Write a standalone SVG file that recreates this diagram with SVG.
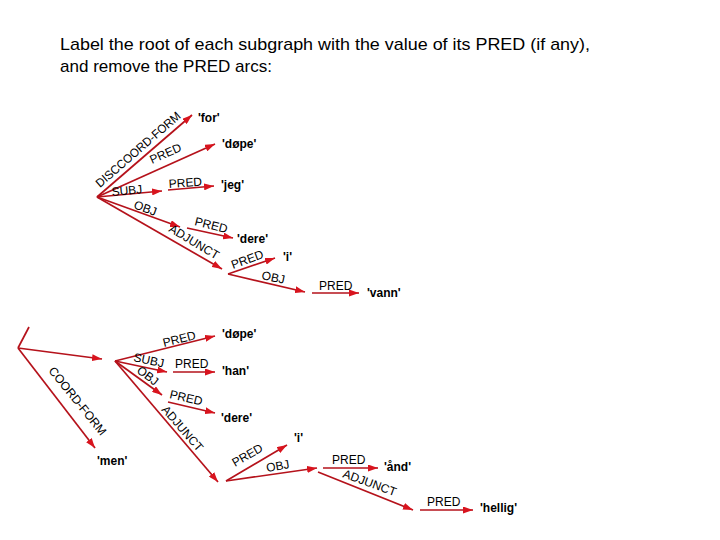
<svg xmlns="http://www.w3.org/2000/svg" width="720" height="540" viewBox="0 0 720 540">
<defs>
<marker id="ah" viewBox="0 0 10 7" refX="10" refY="3.5" markerWidth="10" markerHeight="7" markerUnits="userSpaceOnUse" orient="auto">
<path d="M0,0 L10,3.5 L0,7 z" fill="#d8141e"/>
</marker>
<style>
.c line{stroke:#b5121b;stroke-width:1.7;fill:none}
.c .a{marker-end:url(#ah)}
.lab{font-family:"Liberation Sans",Arial,sans-serif;font-size:12px;fill:#000}
.val{font-family:"Liberation Sans",Arial,sans-serif;font-size:12px;font-weight:bold;fill:#000}
.title{font-family:"Liberation Sans",Arial,sans-serif;font-size:17px;fill:#000}
</style>
</defs>
<rect width="720" height="540" fill="#fff"/>
<text class="title" x="60" y="50" textLength="530" lengthAdjust="spacingAndGlyphs">Label the root of each subgraph with the value of its PRED (if any),</text>
<text class="title" x="60" y="72" textLength="212" lengthAdjust="spacingAndGlyphs">and remove the PRED arcs:</text>

<g id="connectors" class="c">
<line class="a" x1="97" y1="197" x2="192" y2="115"/>
<line class="a" x1="97" y1="197" x2="215" y2="144"/>
<line class="a" x1="97" y1="197" x2="162" y2="191"/>
<line class="a" x1="168" y1="190" x2="214" y2="186"/>
<line class="a" x1="97" y1="197" x2="180" y2="227"/>
<line class="a" x1="187" y1="228" x2="233" y2="238"/>
<line class="a" x1="97" y1="197" x2="222" y2="269"/>
<line class="a" x1="228" y1="274" x2="275" y2="258"/>
<line class="a" x1="228" y1="274" x2="305" y2="292"/>
<line class="a" x1="312" y1="293" x2="359" y2="293"/>

<line x1="18" y1="348" x2="29" y2="327"/>
<line class="a" x1="18" y1="348" x2="102" y2="359"/>
<line class="a" x1="18" y1="348" x2="95" y2="448"/>
<line class="a" x1="115" y1="361" x2="215" y2="336"/>
<line class="a" x1="115" y1="361" x2="167" y2="372"/>
<line class="a" x1="173" y1="372" x2="215" y2="372"/>
<line class="a" x1="115" y1="361" x2="162" y2="395"/>
<line class="a" x1="168" y1="402" x2="215" y2="413"/>
<line class="a" x1="115" y1="361" x2="218" y2="482"/>
<line class="a" x1="226" y1="481" x2="287" y2="445"/>
<line class="a" x1="226" y1="481" x2="317" y2="468"/>
<line class="a" x1="323" y1="468" x2="378" y2="468"/>
<line class="a" x1="318" y1="472" x2="413" y2="510"/>
<line class="a" x1="420" y1="510" x2="473" y2="510"/>
</g>

<g id="labels">
<text class="lab" transform="translate(100,188) rotate(-41)" textLength="108" lengthAdjust="spacingAndGlyphs">DISCCOORD-FORM</text>
<text class="lab" transform="translate(152,164) rotate(-24)">PRED</text>
<text class="lab" transform="translate(112,196) rotate(-5)">SUBJ</text>
<text class="lab" transform="translate(169,188) rotate(-4)">PRED</text>
<text class="lab" transform="translate(133,208) rotate(20)">OBJ</text>
<text class="lab" transform="translate(194,225) rotate(14)">PRED</text>
<text class="lab" transform="translate(168,231) rotate(31)">ADJUNCT</text>
<text class="lab" transform="translate(233,269) rotate(-20)">PRED</text>
<text class="lab" transform="translate(261,279) rotate(12)">OBJ</text>
<text class="lab" x="319" y="290">PRED</text>

<text class="lab" transform="translate(48,371) rotate(51)">COORD-FORM</text>
<text class="lab" transform="translate(164,347) rotate(-14)">PRED</text>
<text class="lab" transform="translate(133,361) rotate(12)">SUBJ</text>
<text class="lab" x="175" y="368">PRED</text>
<text class="lab" transform="translate(136,372) rotate(37)">OBJ</text>
<text class="lab" transform="translate(169,398) rotate(13)">PRED</text>
<text class="lab" transform="translate(161,410) rotate(49)">ADJUNCT</text>
<text class="lab" transform="translate(235,467) rotate(-30)">PRED</text>
<text class="lab" transform="translate(267,472) rotate(-10)">OBJ</text>
<text class="lab" x="332" y="464">PRED</text>
<text class="lab" transform="translate(342,477) rotate(20)">ADJUNCT</text>
<text class="lab" x="427" y="506">PRED</text>
</g>

<g id="n-for"><text class="val" x="198" y="122">'for'</text></g>
<g id="n-dope1"><text class="val" x="222" y="148">'døpe'</text></g>
<g id="n-jeg"><text class="val" x="221" y="189">'jeg'</text></g>
<g id="n-dere1"><text class="val" x="237" y="243">'dere'</text></g>
<g id="n-i1"><text class="val" x="283" y="261">'i'</text></g>
<g id="n-vann"><text class="val" x="367" y="297">'vann'</text></g>
<g id="n-dope2"><text class="val" x="222" y="338">'døpe'</text></g>
<g id="n-han"><text class="val" x="222" y="375">'han'</text></g>
<g id="n-dere2"><text class="val" x="221" y="422">'dere'</text></g>
<g id="n-men"><text class="val" x="97" y="465">'men'</text></g>
<g id="n-i2"><text class="val" x="294" y="442">'i'</text></g>
<g id="n-and"><text class="val" x="384" y="471">'ånd'</text></g>
<g id="n-hellig"><text class="val" x="480" y="512">'hellig'</text></g>
</svg>
